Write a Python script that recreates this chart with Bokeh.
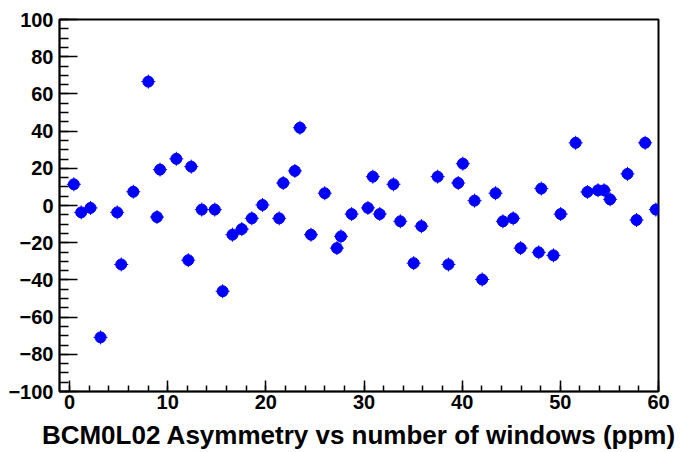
from bokeh.plotting import figure
from bokeh.models import SingleIntervalTicker, Range1d
from bokeh.embed import file_html
from bokeh.resources import INLINE

# Asymmetry per window (ppm) vs window number
window = [0.44, 1.19, 2.14, 3.16, 4.86, 5.27, 6.5, 8.03, 8.91, 9.22,
          10.88, 12.1, 12.4, 13.47, 14.8, 15.6, 16.6, 17.55, 18.57, 19.66,
          21.36, 21.77, 22.96, 23.47, 24.6, 26.0, 27.24, 27.65, 28.74, 30.4,
          30.9, 31.6, 33.0, 33.7, 35.06, 35.85, 37.5, 38.6, 39.6, 40.07,
          41.26, 42.04, 43.4, 44.15, 45.2, 45.95, 47.8, 48.06, 49.3, 50.03,
          51.56, 52.76, 53.84, 54.46, 55.07, 56.84, 57.76, 58.64, 59.73]
asym = [11.4, -3.7, -1.3, -70.9, -3.7, -31.7, 7.4, 66.6, -6.2, 19.3,
        25.1, -29.4, 20.9, -2.2, -2.2, -46.1, -15.7, -12.7, -6.9, 0.3,
        -6.9, 12.1, 18.6, 41.8, -15.7, 6.6, -22.9, -16.6, -4.6, -1.3,
        15.5, -4.6, 11.4, -8.5, -31.0, -11.1, 15.5, -31.7, 12.1, 22.5,
        2.6, -39.8, 6.6, -8.5, -6.9, -22.9, -25.2, 9.1, -26.8, -4.6,
        33.7, 7.3, 8.2, 8.2, 3.3, 17.0, -7.8, 33.7, -2.2]

x_title = "BCM0L02 Asymmetry vs number of windows (ppm)"
FONT = "Liberation Sans"

p = figure(width=683, height=452, output_backend="svg", toolbar_location=None,
           x_range=Range1d(-1.02, 60), y_range=Range1d(-100, 100),
           min_border_left=59, min_border_right=25,
           min_border_top=19, min_border_bottom=61)

p.background_fill_color = "white"
p.border_fill_color = "white"
p.outline_line_color = "black"
p.outline_line_width = 2
p.xgrid.visible = False
p.ygrid.visible = False

# ticks point into the frame, ROOT style
p.xaxis.ticker = SingleIntervalTicker(interval=10, num_minor_ticks=5)
p.yaxis.ticker = SingleIntervalTicker(interval=20, num_minor_ticks=4)
for ax in (p.xaxis, p.yaxis):
    ax.axis_line_color = "black"
    ax.axis_line_width = 1.5
    ax.major_tick_out = 0
    ax.minor_tick_out = 0
    ax.major_tick_line_color = "black"
    ax.minor_tick_line_color = "black"
    ax.major_tick_line_width = 1.5
    ax.minor_tick_line_width = 1.5
    ax.major_label_text_font = FONT
    ax.major_label_text_font_style = "bold"
    ax.major_label_text_color = "black"
    ax.major_label_text_font_size = "20px"
p.yaxis.major_tick_in = 18
p.yaxis.minor_tick_in = 9
p.xaxis.major_tick_in = 11
p.xaxis.minor_tick_in = 6
p.yaxis.major_label_standoff = 6
p.xaxis.major_label_standoff = 3

p.xaxis.axis_label = x_title
p.xaxis.axis_label_text_font = FONT
p.xaxis.axis_label_text_font_style = "bold"
p.xaxis.axis_label_text_font_size = "26px"
p.xaxis.axis_label_text_color = "black"
p.xaxis.axis_label_standoff = 8

p.scatter(window, asym, marker="circle", size=11,
          fill_color="#0000ff", line_color="#0000ff")
p.scatter(window, asym, marker="cross", size=14,
          line_color="#0000ff", line_width=1)

open("out.html", "w").write(file_html(p, INLINE))
